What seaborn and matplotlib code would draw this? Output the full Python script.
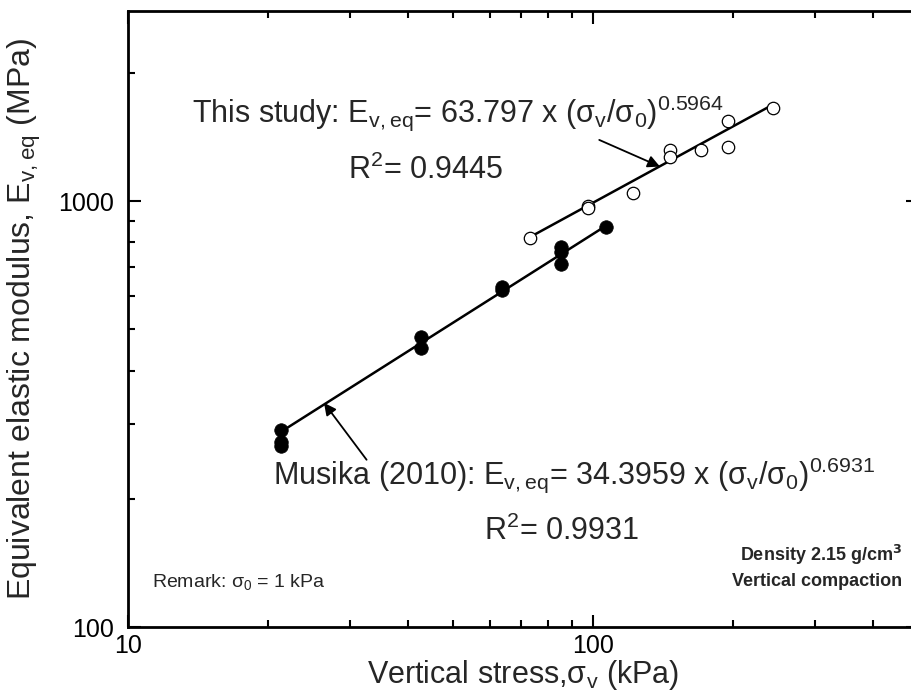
import matplotlib
matplotlib.use("Agg")
import matplotlib.pyplot as plt
import matplotlib.ticker as mticker
import seaborn as sns
import pandas as pd

# ---- data ----
this_x = [73.2, 97.6, 97.6, 122.0, 146.4, 146.4, 170.8, 195.2, 195.2, 244.0]
this_y = [817, 975, 961, 1044, 1321, 1268, 1315, 1540, 1343, 1655]
mus_x = [21.3, 21.3, 21.3, 42.6, 42.6, 63.9, 63.9, 85.2, 85.2, 85.2, 106.5]
mus_y = [290, 272, 266, 480, 452, 630, 618, 780, 760, 712, 870]
this_fit_x = [73.2, 244.0]
this_fit_y = [823, 1685]
mus_fit_x = [21.3, 106.5]
mus_fit_y = [287, 874]
x_ticks = [10, 100]
y_ticks = [100, 1000]

sns.set_style("ticks", {"xtick.direction": "in", "ytick.direction": "in"})
plt.rcParams["font.family"] = ["Liberation Sans", "DejaVu Sans"]
plt.rcParams["mathtext.default"] = "regular"

fig = plt.figure(figsize=(9.11, 6.91), dpi=100)
ax = fig.add_axes([0.1405, 0.0926, 0.867, 0.892])

df_this = pd.DataFrame({"x": this_x, "y": this_y})
df_mus = pd.DataFrame({"x": mus_x, "y": mus_y})
sns.lineplot(x=this_fit_x, y=this_fit_y, ax=ax, color="black", lw=1.8, zorder=2)
sns.lineplot(x=mus_fit_x, y=mus_fit_y, ax=ax, color="black", lw=1.8, zorder=2)
sns.scatterplot(data=df_this, x="x", y="y", ax=ax, s=80, facecolor="white",
                edgecolor="black", linewidth=0.9, zorder=3)
sns.scatterplot(data=df_mus, x="x", y="y", ax=ax, s=95, color="black",
                edgecolor="black", linewidth=0.5, zorder=3)

ax.set_xscale("log")
ax.set_yscale("log")
ax.set_xlim(10, 500)
ax.set_ylim(100, 2800)
ax.xaxis.set_major_locator(mticker.FixedLocator(x_ticks))
ax.yaxis.set_major_locator(mticker.FixedLocator(y_ticks))
ax.xaxis.set_minor_locator(mticker.LogLocator(base=10, subs=range(2, 10)))
ax.yaxis.set_minor_locator(mticker.LogLocator(base=10, subs=range(2, 10)))
ax.xaxis.set_major_formatter(mticker.FixedFormatter([str(v) for v in x_ticks]))
ax.yaxis.set_major_formatter(mticker.FixedFormatter([str(v) for v in y_ticks]))
ax.xaxis.set_minor_formatter(mticker.NullFormatter())
ax.yaxis.set_minor_formatter(mticker.NullFormatter())
ax.tick_params(which="both", top=True, right=True, direction="in", colors="black",
               labelsize=18)
ax.tick_params(which="major", length=9, width=1.5)
ax.tick_params(which="minor", length=5, width=1.5)
ax.tick_params(axis="x", which="major", pad=5)
ax.tick_params(axis="y", which="major", pad=10)
for sp in ax.spines.values():
    sp.set_linewidth(2)
    sp.set_color("black")

ax.set_xlabel("Vertical stress,σ$_v$ (kPa)", fontsize=22, labelpad=0)
ax.set_ylabel("Equivalent elastic modulus, E$_{v,eq}$ (MPa)", fontsize=23, labelpad=11)

ax.text(13.73, 1535, "This study: E$_{v,eq}$= 63.797 x (σ$_v$/σ$_0$)$^{0.5964}$",
        fontsize=22, ha="left", va="baseline")
ax.text(29.7, 1127, "R$^2$= 0.9445", fontsize=22, ha="left", va="baseline")
ax.text(20.5, 217, "Musika (2010): E$_{v,eq}$= 34.3959 x (σ$_v$/σ$_0$)$^{0.6931}$",
        fontsize=22, ha="left", va="baseline")
ax.text(58.3, 160, "R$^2$= 0.9931", fontsize=22, ha="left", va="baseline")
ax.text(11.26, 124, "Remark: σ$_0$ = 1 kPa", fontsize=14, ha="left", va="baseline")
ax.text(0.98, 0.107, "Density 2.15 g/cm$^\\mathbf{3}$", transform=ax.transAxes,
        fontsize=13, fontweight="bold", ha="right", va="baseline")
ax.text(0.98, 0.066, "Vertical compaction", transform=ax.transAxes,
        fontsize=13, fontweight="bold", ha="right", va="baseline")

ax.annotate("", xy=(139.4, 1205), xytext=(103.2, 1392),
            arrowprops=dict(arrowstyle="-|>", color="black", lw=1.3,
                            mutation_scale=18, shrinkA=0, shrinkB=0))
ax.annotate("", xy=(26.4, 336), xytext=(32.6, 247),
            arrowprops=dict(arrowstyle="-|>", color="black", lw=1.3,
                            mutation_scale=18, shrinkA=0, shrinkB=0))

fig.savefig("out.png", dpi=100)
